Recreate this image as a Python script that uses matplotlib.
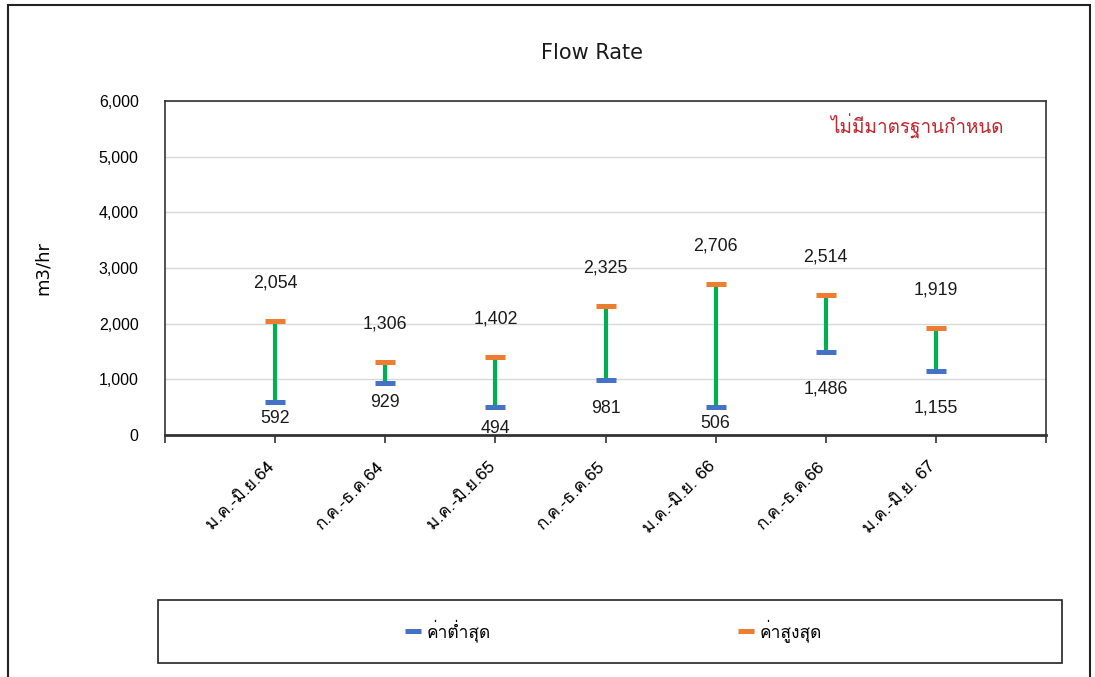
import matplotlib
matplotlib.use("Agg")
import matplotlib.pyplot as plt
from matplotlib import font_manager
from matplotlib.ft2font import FT2Font
from matplotlib.patches import Rectangle
from matplotlib.transforms import ScaledTranslation

# find an installed font that has Thai glyphs
thai_font = None
for f in font_manager.fontManager.ttflist:
    try:
        if 0x0E01 in FT2Font(f.fname).get_charmap():
            thai_font = f.name
            break
    except Exception:
        pass
thai_family = ["DejaVu Sans"] if thai_font is None else [thai_font, "DejaVu Sans"]
num_family = ["Liberation Sans", "DejaVu Sans"]
plt.rcParams["font.family"] = thai_family

periods = ["ม.ค.-มิ.ย.64", "ก.ค.-ธ.ค.64", "ม.ค.-มิ.ย.65", "ก.ค.-ธ.ค.65",
           "ม.ค.-มิ.ย. 66", "ก.ค.-ธ.ค.66", "ม.ค.-มิ.ย. 67"]
low_vals = [592, 929, 494, 981, 506, 1486, 1155]
high_vals = [2054, 1306, 1402, 2325, 2706, 2514, 1919]
# distance (px) of the low value label under its marker
low_label_gap = [16, 19, 21, 28, 17, 37, 37]

blue = "#4472C4"
orange = "#ED7D31"
green = "#00B050"

fig = plt.figure(figsize=(10.95, 6.77), dpi=100)
ax = fig.add_axes([0.1507, 0.3575, 0.8046, 0.4933])

x = list(range(1, len(periods) + 1))
ax.vlines(x, low_vals, high_vals, color=green, lw=3, zorder=2)
ax.plot(x, low_vals, ls="none", marker="_", ms=14.5, mew=3.6, color=blue,
        zorder=3, label="ค่าต่ำสุด")
ax.plot(x, high_vals, ls="none", marker="_", ms=14.5, mew=3.6, color=orange,
        zorder=3, label="ค่าสูงสุด")

for xi, lo, hi, gap in zip(x, low_vals, high_vals, low_label_gap):
    ax.annotate(f"{hi:,}", (xi, hi), xytext=(0, 38), textcoords="offset pixels",
                ha="center", va="center", fontsize=12.8, color="#1a1a1a",
                family=num_family)
    ax.annotate(f"{lo:,}", (xi, lo), xytext=(0, -gap), textcoords="offset pixels",
                ha="center", va="center", fontsize=12.8, color="#1a1a1a",
                family=num_family)

ax.set_xlim(0, 8)
ax.set_ylim(0, 6000)
ax.set_yticks(range(0, 7000, 1000))
ax.set_yticklabels([f"{v:,}" for v in range(0, 7000, 1000)], fontsize=11.5,
                   family=num_family)
ax.tick_params(axis="y", length=0, pad=19)
ax.set_xticks(range(0, 9))
ax.set_xticklabels([""] + periods + [""], rotation=45, ha="right",
                   rotation_mode="anchor", fontsize=12.5)
ax.tick_params(axis="x", length=6, width=1.2, pad=8, color="#333333")
shift = ScaledTranslation(-6 / 72, -3 / 72, fig.dpi_scale_trans)
for lbl in ax.get_xticklabels():
    lbl.set_transform(lbl.get_transform() + shift)
ax.grid(axis="y", color="#D9D9D9", lw=1)
ax.set_axisbelow(True)
for s in ax.spines.values():
    s.set_color("#333333")
    s.set_linewidth(1.2)
ax.spines["bottom"].set_linewidth(2)
ax.set_ylabel("m3/hr", fontsize=13, family="DejaVu Sans")
ax.yaxis.set_label_coords(-0.128, 0.5)

fig.text(0.541, 0.922, "Flow Rate", ha="center", va="center", fontsize=15,
         family="DejaVu Sans", color="#1a1a1a")
fig.text(0.8374, 0.8139, "ไม่มีมาตรฐานกำหนด", ha="center", va="center",
         fontsize=13.6, color="#C0262D")

fig.legend(loc="center", bbox_to_anchor=(0.5598, 0.068), ncol=2, frameon=False,
           fontsize=12.5, columnspacing=14.2, handlelength=1.0, handletextpad=0.3,
           markerscale=0.75)
fig.patches.append(Rectangle((0.1443, 0.0207), 0.8256, 0.0931, transform=fig.transFigure,
                             fill=False, ec="#222222", lw=1.2))
fig.patches.append(Rectangle((8 / 1095, -0.01), 1082 / 1095, 1 - 5 / 677 + 0.01,
                             transform=fig.transFigure, fill=False, ec="#222222", lw=1.5))

fig.savefig("out.png", dpi=100)
